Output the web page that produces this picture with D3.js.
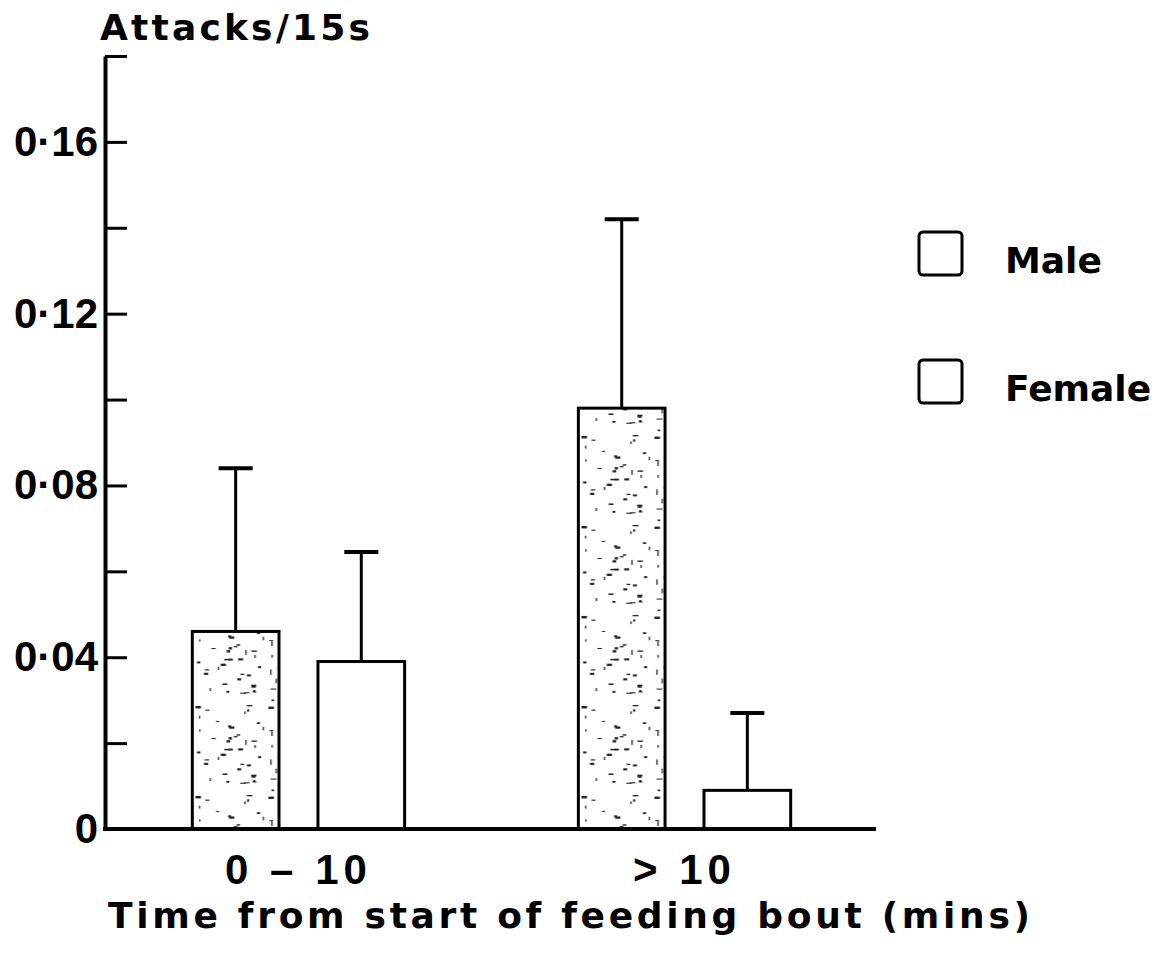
<!DOCTYPE html>
<html>
<head>
<meta charset="utf-8">
<script src="https://cdn.jsdelivr.net/npm/d3@7/dist/d3.min.js"></script>
<style>
  body { margin: 0; background: #fff; }
  text { font-family: "Liberation Sans", Arial, sans-serif; font-weight: bold; fill: #000; }
  .wide { font-family: "DejaVu Sans", sans-serif; }
</style>
</head>
<body>
<div class="bar-chart"></div>
<script>
// data
var groups = ["0 \u2013 10", "> 10"];
var sexes = ["Male", "Female"];
var maleMean = [0.046, 0.098];
var maleSE = [0.038, 0.044];
var femaleMean = [0.039, 0.009];
var femaleSE = [0.0255, 0.018];
var yTicks = [0.02, 0.04, 0.06, 0.08, 0.10, 0.12, 0.14, 0.16, 0.18];
var yLabelTicks = [0, 0.04, 0.08, 0.12, 0.16];

var width = 1173, height = 971;

var svg = d3.select(".bar-chart").append("svg")
    .attr("width", width)
    .attr("height", height);

// stipple pattern for the male bars
var defs = svg.append("defs");
var pat = defs.append("pattern")
    .attr("id", "stipple")
    .attr("patternUnits", "userSpaceOnUse")
    .attr("width", 90).attr("height", 90);
pat.append("rect").attr("width", 90).attr("height", 90).attr("fill", "#fff");
var seed = 7;
function lcg() { seed = (seed * 16807) % 2147483647; return seed / 2147483647; }
for (var i = 0; i < 50; i++) {
  var vert = lcg() < 0.25;
  pat.append("rect")
      .attr("x", lcg() * 86)
      .attr("y", lcg() * 86)
      .attr("width", vert ? 1.3 : 2 + lcg() * 4)
      .attr("height", vert ? 2 + lcg() * 4 : 1 + lcg() * 1.5)
      .attr("fill", "#222");
}

// scales
var y = d3.scaleLinear().domain([0, 0.18]).range([829, 56]);
var x0 = d3.scaleBand().domain(groups).range([107, 876])
    .paddingInner(0.45).paddingOuter(0.221);
var x1 = d3.scaleBand().domain(sexes).range([0, x0.bandwidth()])
    .paddingInner(0.31);

var fmt = function(d) {
  if (d === 0) return "0";
  return yLabelTicks.some(function(t) { return Math.abs(t - d) < 1e-9; })
    ? d3.format(".2f")(d).replace(".", "\u00b7") : "";
};

// Y axis
var yAxis = svg.append("g")
    .attr("transform", "translate(105,0)")
    .call(d3.axisLeft(y).tickValues([0].concat(yTicks)).tickFormat(fmt)
      .tickSizeInner(-22).tickSizeOuter(0).tickPadding(7));
yAxis.select(".domain").attr("stroke-width", 4);
yAxis.selectAll(".tick line").attr("stroke-width", 3);
yAxis.selectAll(".tick text")
    .style("font-size", "42px")
    .attr("fill", "#000");

// X axis
var xAxis = svg.append("g")
    .attr("transform", "translate(0," + y(0) + ")")
    .call(d3.axisBottom(x0).tickSize(0).tickPadding(25));
xAxis.select(".domain").attr("stroke-width", 4).attr("d", "M103,0H876");
xAxis.selectAll(".tick text")
    .style("font-size", "42px")
    .style("letter-spacing", "5px")
    .attr("fill", "#000");

// bars
var rows = groups.map(function(g, i) {
  return [
    {group: g, sex: "Male", mean: maleMean[i], se: maleSE[i]},
    {group: g, sex: "Female", mean: femaleMean[i], se: femaleSE[i]}
  ];
});

var gGroups = svg.selectAll(".grp")
    .data(rows)
  .enter().append("g")
    .attr("class", "grp")
    .attr("transform", function(d, i) { return "translate(" + x0(groups[i]) + ",0)"; });

var cells = gGroups.selectAll(".cell")
    .data(function(d) { return d; })
  .enter().append("g")
    .attr("class", "cell");

// error bars
cells.append("line")
    .attr("x1", function(d) { return x1(d.sex) + x1.bandwidth() / 2; })
    .attr("x2", function(d) { return x1(d.sex) + x1.bandwidth() / 2; })
    .attr("y1", function(d) { return y(d.mean); })
    .attr("y2", function(d) { return y(d.mean + d.se); })
    .attr("stroke", "#000")
    .attr("stroke-width", 3);
cells.append("line")
    .attr("x1", function(d) { return x1(d.sex) + x1.bandwidth() / 2 - 17; })
    .attr("x2", function(d) { return x1(d.sex) + x1.bandwidth() / 2 + 17; })
    .attr("y1", function(d) { return y(d.mean + d.se); })
    .attr("y2", function(d) { return y(d.mean + d.se); })
    .attr("stroke", "#000")
    .attr("stroke-width", 4);

cells.append("rect")
    .attr("x", function(d) { return x1(d.sex); })
    .attr("y", function(d) { return y(d.mean); })
    .attr("width", x1.bandwidth())
    .attr("height", function(d) { return y(0) - y(d.mean); })
    .attr("fill", function(d) { return d.sex === "Male" ? "url(#stipple)" : "#fff"; })
    .attr("stroke", "#000")
    .attr("stroke-width", 3);

// redraw baseline on top of bars
svg.append("line")
    .attr("x1", 103).attr("x2", 876)
    .attr("y1", y(0)).attr("y2", y(0))
    .attr("stroke", "#000").attr("stroke-width", 4);

// y title
svg.append("text")
    .attr("class", "wide")
    .attr("x", 100).attr("y", 40)
    .attr("textLength", 270)
    .attr("lengthAdjust", "spacing")
    .style("font-size", "36px")
    .text("Attacks/15s");

// x title
svg.append("text")
    .attr("class", "wide")
    .attr("x", 108).attr("y", 928)
    .attr("textLength", 922)
    .attr("lengthAdjust", "spacing")
    .style("font-size", "36px")
    .text("Time from start of feeding bout (mins)");

// legend
var legend = svg.selectAll(".legend")
    .data(sexes)
  .enter().append("g")
    .attr("class", "legend")
    .attr("transform", function(d, i) { return "translate(919," + (232 + i * 128) + ")"; });
legend.append("rect")
    .attr("width", 43).attr("height", 43)
    .attr("rx", 4)
    .attr("fill", "#fff")
    .attr("stroke", "#000")
    .attr("stroke-width", 3);
legend.append("text")
    .attr("class", "wide")
    .attr("x", 86).attr("y", 41)
    .style("font-size", "36px")
    .text(function(d) { return d; });
</script>
</body>
</html>
